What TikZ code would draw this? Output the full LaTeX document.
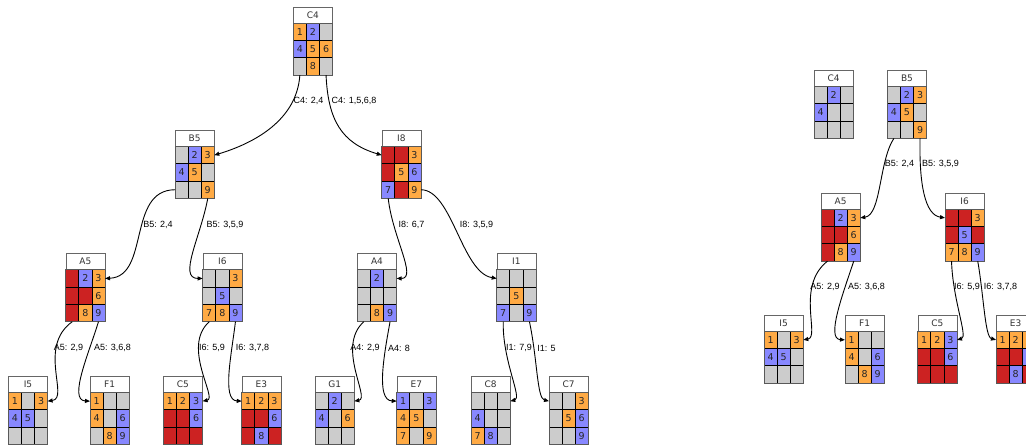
\documentclass[tikz,border=0pt]{standalone}
\usepackage{fontspec}
\setmainfont{DejaVu Sans}
\newfontfamily\lblfont{Liberation Sans}
\usetikzlibrary{arrows.meta, calc}

\definecolor{O}{HTML}{FFAA44}
\definecolor{B}{HTML}{8888FF}
\definecolor{R}{HTML}{CC2222}
\definecolor{G}{HTML}{CCCCCC}
\definecolor{ink}{HTML}{333333}

% one board: name, top-left corner, title, nine cells colour/digit
\newcommand{\board}[4]{%
  \node[titlebox] (#1) at (#2) {#3};
  \foreach \clr/\num [count=\k] in {#4} {
    \pgfmathtruncatemacro{\cx}{mod(\k-1,3)}
    \pgfmathtruncatemacro{\cy}{(\k-1)/3}
    \node[cellbox, fill=\clr] (#1-\k) at ($(#1.south west)+(\cx*13.1,\cy*17.3)$) {\num};
  }
  \draw[frame] (#1-1.north west) rectangle (#1-9.south east);
}

\begin{document}
\begin{tikzpicture}[
        x=1pt, y=-1pt,
        titlebox/.style={draw=gray!80!black, fill=white, anchor=north west, minimum width=39.3pt, minimum height=16.5pt, inner sep=0pt, outer sep=0pt, font=\fontsize{9}{9}\selectfont, text=ink},
        cellbox/.style={draw=black, line width=0.8pt, anchor=north west, minimum width=13.1pt, minimum height=17.3pt, inner sep=0pt, outer sep=0pt, font=\fontsize{9.5}{9.5}\selectfont, text=black!85},
        frame/.style={draw=gray!70!black, line width=1pt},
        edge/.style={draw=black, line width=0.9pt, -{Triangle[length=5pt,width=4pt]}},
        elabel/.style={font=\lblfont\fontsize{9}{9}\selectfont, text=black, inner sep=0pt}
    ]
        \clip (0,0) rectangle (1026,445);

        % left tree
        \board{C4}{293.3,6.7}{C4}{O/1,B/2,G/,B/4,O/5,O/6,G/,O/8,G/}
        \board{B5}{175,130}{B5}{G/,B/2,O/3,B/4,O/5,G/,G/,G/,O/9}
        \board{I8}{381.7,130}{I8}{R/,R/,O/3,R/,O/5,B/6,B/7,R/,O/9}
        \board{A5}{65.7,253.3}{A5}{R/,B/2,O/3,R/,R/,O/6,R/,O/8,B/9}
        \board{I6}{202.7,253.3}{I6}{G/,G/,O/3,G/,B/5,G/,O/7,O/8,B/9}
        \board{A4}{357.3,253.3}{A4}{G/,B/2,G/,G/,G/,G/,G/,O/8,B/9}
        \board{I1}{496.7,253.3}{I1}{G/,G/,G/,G/,O/5,G/,B/7,G/,B/9}
        \board{I5}{8.3,376}{I5}{O/1,G/,O/3,B/4,B/5,G/,G/,G/,G/}
        \board{F1}{90,376}{F1}{O/1,G/,G/,O/4,G/,B/6,G/,O/8,B/9}
        \board{C5}{163.3,376}{C5}{O/1,O/2,B/3,R/,R/,B/6,R/,R/,R/}
        \board{E3}{241.7,376}{E3}{O/1,O/2,O/3,R/,R/,B/6,R/,B/8,R/}
        \board{G1}{315,376}{G1}{G/,B/2,G/,B/4,G/,O/6,G/,G/,G/}
        \board{E7}{396.7,376}{E7}{B/1,G/,B/3,O/4,O/5,G/,O/7,G/,O/9}
        \board{C8}{471,376}{C8}{G/,G/,G/,B/4,G/,G/,O/7,B/8,G/}
        \board{C7}{549,376}{C7}{G/,G/,O/3,G/,O/5,B/6,G/,G/,B/9}

        % right tree
        \board{rC4}{814,70}{C4}{G/,B/2,G/,B/4,G/,G/,G/,G/,G/}
        \board{rB5}{887.3,70}{B5}{G/,B/2,O/3,B/4,O/5,G/,G/,G/,O/9}
        \board{rA5}{821,192.7}{A5}{R/,B/2,O/3,R/,R/,O/6,R/,O/8,B/9}
        \board{rI6}{945,192.7}{I6}{R/,R/,O/3,R/,B/5,R/,O/7,O/8,B/9}
        \board{rI5}{764,314.7}{I5}{O/1,G/,O/3,B/4,B/5,G/,G/,G/,G/}
        \board{rF1}{845,314.7}{F1}{O/1,G/,G/,O/4,G/,B/6,G/,O/8,B/9}
        \board{rC5}{917.7,314.7}{C5}{O/1,O/2,B/3,R/,R/,B/6,R/,R/,R/}
        \board{rE3}{996,314.7}{E3}{O/1,O/2,O/3,R/,R/,B/6,R/,B/8,R/}

        % moves
        \draw[edge] (C4-7.south) .. controls +(-3,45) and +(40,-12) .. (B5-3.east);
        \draw[edge] (C4-9.south) .. controls +(2,45) and +(-40,-12) .. (I8-1.west);
        \draw[edge] (B5-7.west) .. controls +(-48,0) and +(45,-2) .. (A5-3.east);
        \draw[edge] (B5-9.south) .. controls +(-7,38) and +(-25,0) .. (I6-1.west);
        \draw[edge] (I8-7.south) .. controls +(4,38) and +(21,0) .. (A4-3.east);
        \draw[edge] (I8-9.east) .. controls +(31,0) and +(-35,-6) .. (I1-1.west);
        \draw[edge] (A5-7.south) .. controls +(-35,25) and +(22,-3) .. (I5-3.east);
        \draw[edge] (A5-9.south) .. controls +(-9,30) and +(-22,-1) .. (F1-1.west);
        \draw[edge] (I6-7.south) .. controls +(-28,25) and +(15,-3) .. (C5-3.east);
        \draw[edge] (I6-9.south) .. controls +(-4,33) and +(-20,-1) .. (E3-1.west);
        \draw[edge] (A4-7.south) .. controls +(-28,25) and +(16,-3) .. (G1-3.east);
        \draw[edge] (A4-9.south) .. controls +(-6,33) and +(-21,-1) .. (E7-1.west);
        \draw[edge] (I1-7.south) .. controls +(-1,38) and +(12,-3) .. (C8-3.east);
        \draw[edge] (I1-9.south) .. controls +(8,38) and +(-12,-3) .. (C7-1.west);

        \draw[edge] (rB5-7.south) .. controls +(-15,23) and +(21,-3) .. (rA5-3.east);
        \draw[edge] (rB5-9.south) .. controls +(-1,46) and +(-20,-3) .. (rI6-1.west);
        \draw[edge] (rA5-7.south) .. controls +(-32,25) and +(17,-3) .. (rI5-3.east);
        \draw[edge] (rA5-9.south) .. controls +(-11,33) and +(-19,-1) .. (rF1-1.west);
        \draw[edge] (rI6-7.south) .. controls +(1,38) and +(11,-3) .. (rC5-3.east);
        \draw[edge] (rI6-9.south) .. controls +(6,35) and +(-11,-3) .. (rE3-1.west);

        % move labels
        \node[elabel] (lC4a) at (308.5,101) {C4: 2,4};
        \node[elabel] (lC4b) at (354,101) {C4: 1,5,6,8};
        \node[elabel] (lB5a) at (158,225) {B5: 2,4};
        \node[elabel] (lB5b) at (225,225) {B5: 3,5,9};
        \node[elabel] (lI8a) at (411.5,225) {I8: 6,7};
        \node[elabel] (lI8b) at (476.5,225) {I8: 3,5,9};
        \node[elabel] (lA5a) at (68.5,348) {A5: 2,9};
        \node[elabel] (lA5b) at (112.5,348) {A5: 3,6,8};
        \node[elabel] (lI6a) at (212,348) {I6: 5,9};
        \node[elabel] (lI6b) at (252.5,348) {I6: 3,7,8};
        \node[elabel] (lA4a) at (365,348) {A4: 2,9};
        \node[elabel] (lA4b) at (399,348) {A4: 8};
        \node[elabel] (lI1a) at (519,348) {I1: 7,9};
        \node[elabel] (lI1b) at (546.5,348) {I1: 5};

        \node[elabel] (rlB5a) at (899.5,164) {B5: 2,4};
        \node[elabel] (rlB5b) at (940.5,164) {B5: 3,5,9};
        \node[elabel] (rlA5a) at (825,287) {A5: 2,9};
        \node[elabel] (rlA5b) at (866.5,287) {A5: 3,6,8};
        \node[elabel] (rlI6a) at (967,287) {I6: 5,9};
        \node[elabel] (rlI6b) at (1000.5,287) {I6: 3,7,8};
\end{tikzpicture}
\end{document}
